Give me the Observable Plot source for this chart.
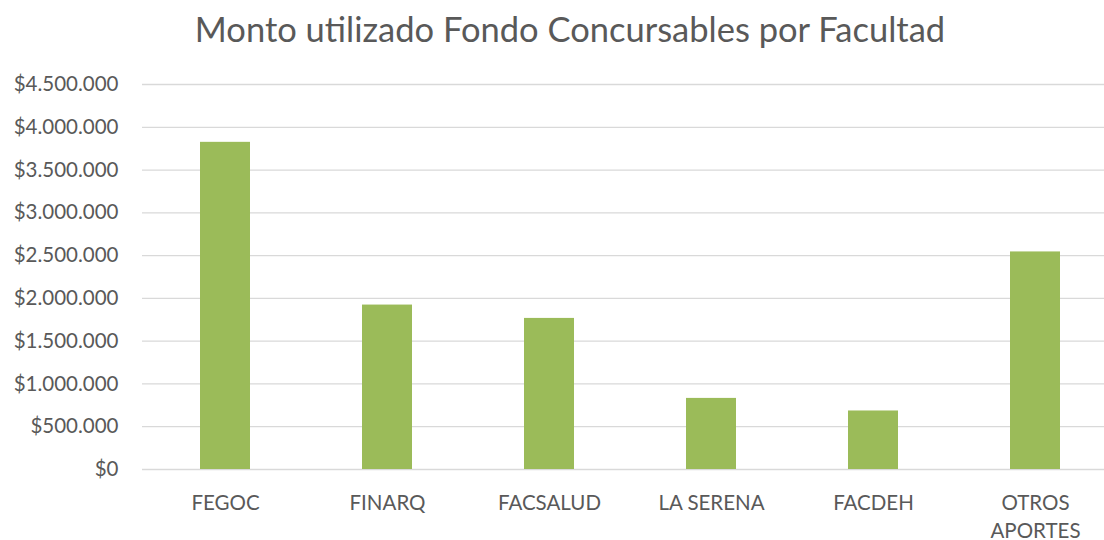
<!DOCTYPE html>
<html>
<head>
<meta charset="utf-8">
<script src="https://cdn.jsdelivr.net/npm/d3@7"></script>
<script src="https://cdn.jsdelivr.net/npm/@observablehq/plot@0.6"></script>
<style>
  html, body { margin: 0; padding: 0; background: #fff; }
  body { width: 1104px; height: 540px; overflow: hidden; font-family: Lato, "Open Sans", sans-serif; }
  #title { height: 62px; box-sizing: border-box; padding-top: 9px; text-align: center; width: 1140px;
           font-size: 34.5px; color: #595959; white-space: nowrap; line-height: 40px; }
  #chart svg { display: block; }
</style>
</head>
<body>
<div id="title">Monto utilizado Fondo Concursables por Facultad</div>
<div id="chart"></div>
<script>
const categories = ["FEGOC", "FINARQ", "FACSALUD", "LA SERENA", "FACDEH", "OTROS\nAPORTES"];
const montos = [3824000, 1922000, 1766000, 831000, 684000, 2543000];
const yTicks = [0, 500000, 1000000, 1500000, 2000000, 2500000, 3000000, 3500000, 4000000, 4500000];

const data = categories.map((c, i) => ({facultad: c, monto: montos[i]}));
const fmt = d => "$" + d3.format(",")(d).replace(/,/g, ".");

const chart = Plot.plot({
  width: 1104,
  height: 478,
  marginTop: 22,
  marginBottom: 71,
  marginLeft: 142,
  marginRight: 0,
  style: {fontFamily: "Lato, 'Open Sans', sans-serif", fontSize: "20.5px", color: "#595959", background: "#fff", overflow: "visible"},
  x: {type: "band", domain: categories, range: [142, 1117], padding: 0, label: null},
  y: {domain: [0, 4500000], label: null},
  marks: [
    Plot.ruleY(yTicks, {stroke: "#d9d9d9", strokeWidth: 1.3}),
    Plot.barY(data, {x: "facultad", y: "monto", fill: "#9BBB59", insetLeft: 56, insetRight: 56}),
    Plot.axisY({ticks: yTicks, tickFormat: fmt, tickSize: 0, tickPadding: 24, fontSize: 20.5, fill: "#595959", label: null}),
    Plot.axisX({tickSize: 0, tickPadding: 21, fontSize: 20.5, fill: "#595959", lineHeight: 1.35, label: null})
  ]
});
document.getElementById("chart").appendChild(chart);
</script>
</body>
</html>
